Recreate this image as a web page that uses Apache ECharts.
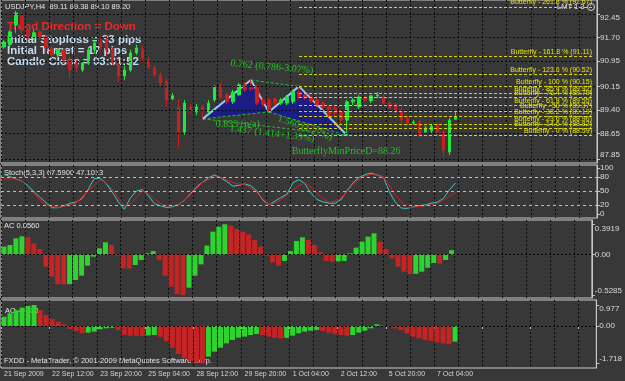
<!DOCTYPE html>
<html>
<head>
<meta charset="utf-8">
<script src="https://cdn.jsdelivr.net/npm/echarts@6/dist/echarts.min.js"></script>
<style>
html, body { margin: 0; padding: 0; background: #383838; }
#chart { width: 625px; height: 381px; }
</style>
</head>
<body>
<div id="chart"></div>
<script>
var myChart = echarts.init(document.getElementById('chart'));

// USDJPY H4 candles: [open, close, low, high]
var candles = [
    [91.40, 91.56, 91.34, 91.62], [91.47, 91.88, 91.37, 91.94], [92.10, 92.48, 91.85, 92.54], [92.39, 91.94, 91.81, 92.51],
    [91.94, 91.69, 91.56, 92.04], [91.69, 91.85, 91.62, 91.94], [91.88, 91.72, 91.62, 91.94], [91.72, 91.37, 91.24, 91.78],
    [91.37, 91.15, 91.05, 91.43], [91.15, 91.31, 91.08, 91.37], [91.31, 90.99, 90.89, 91.37], [90.99, 90.67, 90.42, 91.08],
    [90.89, 90.74, 90.61, 90.99], [90.67, 90.89, 90.61, 90.96], [90.89, 91.31, 90.83, 91.37], [91.31, 91.53, 91.21, 91.62],
    [91.53, 91.40, 91.31, 91.69], [91.62, 91.31, 91.15, 91.75], [91.31, 90.93, 90.83, 91.37], [90.86, 90.48, 90.29, 90.93],
    [90.48, 90.67, 90.35, 90.80], [90.67, 91.21, 90.61, 91.31], [91.21, 91.37, 91.15, 91.47], [91.34, 91.05, 90.93, 91.43],
    [90.99, 90.77, 90.70, 91.08], [90.74, 90.51, 90.45, 90.80], [90.51, 90.26, 90.16, 90.58], [90.32, 89.72, 89.50, 90.39],
    [89.75, 89.85, 89.72, 89.94], [89.50, 88.70, 88.20, 89.72], [88.70, 89.62, 88.61, 89.72], [89.50, 89.40, 89.28, 89.59],
    [89.34, 89.50, 89.24, 89.59], [89.50, 89.40, 89.12, 89.56], [89.34, 89.62, 89.28, 89.72], [89.72, 90.13, 89.66, 90.20],
    [90.20, 89.81, 89.75, 90.26], [89.88, 89.66, 89.59, 89.94], [89.66, 89.97, 89.59, 90.04], [89.88, 90.20, 89.85, 90.26],
    [90.20, 90.04, 89.97, 90.29], [90.10, 90.07, 90.01, 90.35], [90.13, 89.62, 89.56, 90.20], [89.72, 89.59, 89.50, 89.81],
    [89.72, 89.40, 89.34, 89.78], [89.75, 89.62, 89.53, 89.81], [89.62, 89.72, 89.56, 89.78], [89.62, 89.81, 89.56, 89.88],
    [89.66, 89.97, 89.59, 90.04], [89.97, 89.81, 89.75, 90.15], [89.88, 89.78, 89.72, 89.94], [89.78, 89.69, 89.62, 89.88],
    [89.72, 89.56, 89.50, 89.78], [89.62, 89.50, 89.43, 89.69], [89.50, 89.24, 89.18, 89.56], [89.47, 89.31, 89.21, 89.53],
    [89.34, 89.08, 88.93, 89.40], [89.08, 89.66, 88.59, 89.72], [89.66, 89.72, 89.56, 89.78], [89.50, 89.81, 89.43, 89.88],
    [89.78, 89.72, 89.66, 89.85], [89.69, 89.85, 89.62, 89.88], [89.85, 89.88, 89.78, 89.97], [89.81, 89.62, 89.59, 89.88],
    [89.62, 89.47, 89.40, 89.69], [89.56, 89.34, 89.28, 89.62], [89.40, 89.08, 88.99, 89.47], [89.15, 88.99, 88.89, 89.21],
    [88.99, 89.02, 88.93, 89.08], [89.02, 88.61, 88.51, 89.08], [88.70, 88.83, 88.64, 88.89], [88.74, 88.89, 88.67, 88.96],
    [88.93, 88.67, 88.58, 88.99], [88.70, 88.13, 87.91, 88.77], [88.07, 89.08, 87.97, 89.15], [89.11, 89.20, 89.10, 89.38]
];

// Stochastic(5,3,3)
var stochMain = [
    85.9, 81.0, 76.1, 71.2, 61.4, 48.3, 36.2, 24.7, 14.0, 14.0,
    18.6, 23.8, 26.4, 34.3, 54.2, 76.8, 77.8, 65.7, 47.4, 26.4,
    10.8, 35.3, 50.0, 53.0, 39.5, 22.9, 17.9, 14.4, 16.4, 21.2,
    30.0, 44.7, 59.1, 68.9, 78.7, 84.4, 78.5, 70.2, 60.4, 62.4,
    65.2, 61.4, 50.0, 30.4, 20.0, 28.2, 36.2, 43.4, 67.9, 74.5,
    65.0, 45.4, 31.7, 26.8, 23.8, 23.8, 31.7, 51.3, 67.8, 79.5,
    85.3, 88.5, 84.5, 80.2, 48.8, 25.8, 13.4, 12.6, 16.5, 18.6,
    20.2, 24.0, 26.1, 34.3, 52.6, 67.59
];
var stochSignal = [
    76.1, 76.1, 76.1, 71.7, 58.7, 44.1, 29.4, 19.6, 17.1, 14.7,
    16.7, 20.4, 24.7, 37.8, 50.7, 62.7, 74.6, 66.7, 53.9, 34.3,
    17.9, 22.9, 35.6, 51.3, 43.7, 32.6, 22.9, 17.9, 18.7, 20.4,
    30.5, 41.9, 55.7, 68.7, 74.8, 80.4, 79.4, 74.0, 68.5, 65.3,
    63.7, 56.5, 46.7, 34.3, 20.6, 24.5, 30.8, 41.8, 52.9, 60.9,
    67.8, 58.8, 44.1, 34.3, 26.0, 28.6, 35.1, 48.9, 65.2, 74.9,
    82.8, 86.0, 84.0, 80.2, 62.1, 41.5, 26.8, 14.2, 15.4, 16.6,
    18.4, 21.0, 23.5, 30.4, 38.9, 47.10
];

// Accelerator / Awesome oscillators
var acValues = [
    0.102, 0.123, 0.210, 0.236, 0.228, 0.145, 0.071, -0.158, -0.288, -0.387,
    -0.390, -0.385, -0.331, -0.275, -0.145, -0.028, 0.080, 0.158, 0.123, -0.015,
    -0.180, -0.182, -0.136, -0.071, 0.015, 0.045, -0.071, -0.275, -0.418, -0.515,
    -0.5285, -0.431, -0.275, -0.128, 0.115, 0.297, 0.360, 0.3919, 0.375, 0.331,
    0.297, 0.262, 0.188, 0.102, -0.015, -0.102, -0.145, -0.084, 0.045, 0.175,
    0.223, 0.188, 0.123, 0.028, -0.084, -0.095, -0.090, -0.084, 0.015, 0.089,
    0.167, 0.232, 0.275, 0.167, 0.071, -0.050, -0.158, -0.223, -0.253, -0.250,
    -0.223, -0.171, -0.110, -0.118, -0.071, 0.056
];
var aoValues = [
    0.43, 0.59, 0.74, 0.85, 0.93, 0.977, 0.744, 0.512, 0.326, 0.202,
    0.078, -0.14, -0.233, -0.341, -0.31, -0.264, -0.155, -0.109, -0.078, -0.186,
    -0.419, -0.45, -0.46, -0.47, -0.44, -0.42, -0.50, -0.70, -1.01, -1.30,
    -1.50, -1.62, -1.70, -1.718, -1.426, -1.194, -1.008, -0.806, -0.651, -0.543,
    -0.496, -0.419, -0.372, -0.419, -0.496, -0.543, -0.58, -0.55, -0.45, -0.341,
    -0.264, -0.217, -0.186, -0.233, -0.31, -0.372, -0.419, -0.45, -0.419, -0.31,
    -0.217, -0.109, 0.078, 0.047, -0.031, -0.109, -0.186, -0.341, -0.496, -0.574,
    -0.651, -0.698, -0.760, -0.806, -0.853, -0.729
];

// axis ticks
var timeLabels = ['21 Sep 2009', '22 Sep 12:00', '23 Sep 20:00', '25 Sep 04:00', '28 Sep 12:00',
    '29 Sep 20:00', '1 Oct 04:00', '2 Oct 12:00', '5 Oct 20:00', '7 Oct 04:00'];
var priceTicks = [87.85, 88.65, 89.40, 90.15, 90.95, 91.70, 92.45];
var stochTicks = [0, 20, 50, 80, 100];
var stochLevels = [20, 50, 80];
var acTicks = [-0.5285, 0, 0.3919];
var aoTicks = [-1.718, 0, 0.977];

// butterfly pattern X, A, B, C, D and its fibo levels
var patternIdx = [33, 41, 44, 49, 57];
var patternPrice = [89.12, 90.35, 89.34, 90.15, 88.59];
var fibPct = [0, 14.6, 23.6, 38.2, 50, 61.8, 76.4, 85.4, 100, 123.6, 161.8, 261.8];
var fibPrice = [88.59, 88.82, 88.96, 89.19, 89.37, 89.55, 89.79, 89.92, 90.15, 90.52, 91.11, 92.67];
var lastPrice = 89.20;
var minPriceD = 88.26;

var BAR_SLOTS = 99;   // chart keeps empty space on the right
var categories = [];
for (var i = 0; i < BAR_SLOTS; i++) categories.push(String(i));

var GREEN = '#2fd32f', RED = '#c42424';
var SANS = '"Liberation Sans", Arial, sans-serif';

function histData(vals) {
    return vals.map(function (v, i) {
        var up = i === 0 || v > vals[i - 1];
        return { value: v, itemStyle: { color: up ? GREEN : RED } };
    });
}

var vGrid = {
    show: true,
    interval: function (i) { return i % 4 === 0; },
    lineStyle: { color: '#0a0a0a', type: [2, 2], width: 1 }
};

function xAx(g, bottom) {
    return {
        type: 'category', gridIndex: g, data: categories, boundaryGap: true,
        axisLine: { show: false },
        axisTick: bottom ? {
            show: true, length: 3, interval: function (i) { return i % 8 === 0; },
            lineStyle: { color: '#c8c8c8' }
        } : { show: false },
        axisLabel: bottom ? {
            show: true, interval: function (i) { return i % 8 === 0; },
            formatter: function (v) { return timeLabels[Number(v) / 8] || ''; },
            color: '#d8d8d8', fontSize: 7, fontFamily: SANS, align: 'left', margin: 3
        } : { show: false },
        splitLine: vGrid
    };
}

function yAx(g, min, max, ticks, fmt, edgeAlign) {
    var label = {
        customValues: ticks, formatter: fmt, color: '#dcdcdc', fontSize: 8,
        fontFamily: SANS, margin: 3, hideOverlap: false, lineHeight: 8,
        showMinLabel: true, showMaxLabel: true
    };
    if (edgeAlign) {
        label.verticalAlignMinLabel = 'bottom';
        label.verticalAlignMaxLabel = 'top';
    }
    return {
        type: 'value', gridIndex: g, position: 'right', min: min, max: max,
        axisLine: { show: true, lineStyle: { color: '#c8c8c8' } },
        axisTick: { show: true, length: 3, customValues: ticks, lineStyle: { color: '#c8c8c8' } },
        axisLabel: label,
        splitLine: { show: false }
    };
}

function renderPattern(params, api) {
    var p = patternIdx.map(function (x, k) { return api.coord([x, patternPrice[k]]); });
    var dashed = { stroke: '#25c025', lineWidth: 1, lineDash: [3, 2], fill: null };
    var solid = { stroke: '#94c8ee', lineWidth: 2, fill: null };
    function seg(a, b, st) {
        return { type: 'line', shape: { x1: a[0], y1: a[1], x2: b[0], y2: b[1] }, style: st };
    }
    return {
        type: 'group',
        children: [
            { type: 'polygon', shape: { points: [p[0], p[1], p[2]] }, style: { fill: '#1c1c86' } },
            { type: 'polygon', shape: { points: [p[2], p[3], p[4]] }, style: { fill: '#1c1c86' } },
            seg(p[0], p[2], dashed), seg(p[2], p[4], dashed), seg(p[1], p[3], dashed), seg(p[0], p[4], dashed),
            seg(p[0], p[1], solid), seg(p[1], p[2], solid), seg(p[2], p[3], solid), seg(p[3], p[4], solid)
        ]
    };
}

var fibLines = fibPct.map(function (pct, k) {
    return [
        { coord: [patternIdx[3], fibPrice[k]], label: { formatter: 'Butterfly - ' + pct + ' % (' + fibPrice[k].toFixed(2) + ')' } },
        { coord: [BAR_SLOTS - 1, fibPrice[k]] }
    ];
});

var patternLabelStyle = { color: '#22c622', fontSize: 10, fontFamily: '"Liberation Serif", serif', position: 'inside' };

var option = {
    backgroundColor: '#383838',
    animation: false,
    textStyle: { fontFamily: SANS },
    grid: [
        { left: 1, right: 28, top: 0, height: 163, show: true, borderColor: '#c8c8c8', borderWidth: 1 },
        { left: 1, right: 28, top: 165, height: 53, show: true, borderColor: '#c8c8c8', borderWidth: 1 },
        { left: 1, right: 28, top: 220, height: 78, show: true, borderColor: '#c8c8c8', borderWidth: 1 },
        { left: 1, right: 28, top: 300, height: 68, show: true, borderColor: '#c8c8c8', borderWidth: 1 }
    ],
    xAxis: [xAx(0, false), xAx(1, false), xAx(2, false), xAx(3, true)],
    yAxis: [
        yAx(0, 87.72, 92.89, priceTicks, function (v) { return v.toFixed(2); }, true),
        yAx(1, -8, 106, stochTicks, function (v) { return String(v); }, false),
        yAx(2, -0.565, 0.448, acTicks, function (v) { return v === 0 ? '0.00' : String(v); }, true),
        yAx(3, -1.953, 1.209, aoTicks, function (v) { return v === 0 ? '0.00' : String(v); }, true)
    ],
    graphic: [
        { type: 'text', left: 5, top: 3, style: { text: 'USDJPY,H4  89.11 89.38 89.10 89.20', fill: '#e4e4e4', font: '7.5px ' + SANS } },
        { type: 'text', left: 557, top: 3, style: { text: 'LMT 1.3', fill: '#e4e4e4', font: '7.5px ' + SANS } },
        { type: 'circle', shape: { cx: 591, cy: 7, r: 3.5 }, style: { fill: null, stroke: '#d0d0d0', lineWidth: 1 } },
        { type: 'text', left: 7, top: 21, style: { text: 'Trend Direction = Down', fill: '#e82a2a', font: 'bold 11.5px ' + SANS } },
        { type: 'text', left: 7, top: 34, style: { text: 'Initial Stoploss = 33 pips', fill: '#c4dcf2', font: 'bold 11.5px ' + SANS } },
        { type: 'text', left: 7, top: 45, style: { text: 'Initial Target = 17 pips', fill: '#c4dcf2', font: 'bold 11.5px ' + SANS } },
        { type: 'text', left: 7, top: 56, style: { text: 'Candle Close = 03:31:52', fill: '#c4dcf2', font: 'bold 11.5px ' + SANS } },
        { type: 'text', left: 4, top: 169, style: { text: 'Stoch(5,3,3) 67.5900 47.1013', fill: '#e4e4e4', font: '7.5px ' + SANS } },
        { type: 'text', left: 4, top: 222, style: { text: 'AC 0.0560', fill: '#e4e4e4', font: '7.5px ' + SANS } },
        { type: 'text', left: 5, top: 307, style: { text: 'AO -0.531', fill: '#e4e4e4', font: '7.5px ' + SANS } },
        { type: 'text', left: 4, top: 357, style: { text: 'FXDD - MetaTrader, \u00a9 2001-2009 MetaQuotes Software Corp.', fill: '#e4e4e4', font: '7.5px ' + SANS } }
    ],
    series: [
        {
            name: 'Butterfly', type: 'custom', xAxisIndex: 0, yAxisIndex: 0,
            data: [[patternIdx[0], patternPrice[0]]], renderItem: renderPattern, clip: false, silent: true, z: 1,
            // price grid lines of the main window
            markLine: {
                symbol: 'none', silent: true, label: { show: false },
                lineStyle: { color: '#0a0a0a', type: [2, 2], width: 1 },
                data: priceTicks.map(function (v) { return { yAxis: v }; })
            },
            markPoint: {
                symbol: 'circle', symbolSize: 0, silent: true, label: patternLabelStyle,
                data: [
                    { coord: [44, 90.77], label: { formatter: '0.762 (0.786-3.07%)', offset: [3, 0], rotate: -5 } },
                    { coord: [39, 88.96], label: { formatter: '0.833 (n/a)', offset: [-1, 0] } },
                    { coord: [45, 88.64], label: { formatter: '1.437 (1.414+1.39%)', offset: [-3, 0], rotate: -7 } },
                    { coord: [50, 88.83], label: { formatter: '1.560 (1.27%)', rotate: -20 } },
                    { coord: [57, 88.10], label: { formatter: 'ButterflyMinPriceD=' + minPriceD.toFixed(2), offset: [-1, 0] } }
                ]
            }
        },
        {
            name: 'USDJPY', type: 'candlestick', xAxisIndex: 0, yAxisIndex: 0, data: candles, barWidth: 3,
            itemStyle: { color: '#1ee83c', color0: '#c82020', borderColor: '#1ee83c', borderColor0: '#c82020', borderWidth: 1 },
            markLine: {
                symbol: 'none', silent: true,
                lineStyle: { color: '#d8d800', type: [3, 2], width: 1 },
                label: { position: 'insideEndTop', color: '#e6e600', fontSize: 7, fontFamily: SANS, distance: [2, 1] },
                data: fibLines.concat([{
                    yAxis: lastPrice, lineStyle: { opacity: 0 },
                    label: { position: 'end', formatter: lastPrice.toFixed(2), backgroundColor: '#ffffff', color: '#000000', fontSize: 8, padding: [1, 2], distance: 1 }
                }])
            }
        },
        {
            name: 'Stoch', type: 'line', xAxisIndex: 1, yAxisIndex: 1, data: stochMain, showSymbol: false,
            lineStyle: { color: '#3cc8c8', width: 1 },
            markLine: {
                symbol: 'none', silent: true, label: { show: false },
                lineStyle: { color: '#bcbcbc', type: [3, 3], width: 1 },
                data: stochLevels.map(function (v) { return { yAxis: v }; })
            }
        },
        {
            name: 'Signal', type: 'line', xAxisIndex: 1, yAxisIndex: 1, data: stochSignal, showSymbol: false,
            lineStyle: { color: '#d42020', width: 1 }
        },
        {
            name: 'AC', type: 'bar', xAxisIndex: 2, yAxisIndex: 2, data: histData(acValues), barWidth: 5,
            markLine: { symbol: 'none', silent: true, label: { show: false }, lineStyle: { color: '#000', type: [2, 2], width: 1 }, data: [{ yAxis: 0 }] }
        },
        {
            name: 'AO', type: 'bar', xAxisIndex: 3, yAxisIndex: 3, data: histData(aoValues), barWidth: 5,
            markLine: { symbol: 'none', silent: true, label: { show: false }, lineStyle: { color: '#000', type: [2, 2], width: 1 }, data: [{ yAxis: 0 }] }
        }
    ]
};

myChart.setOption(option);
</script>
</body>
</html>
